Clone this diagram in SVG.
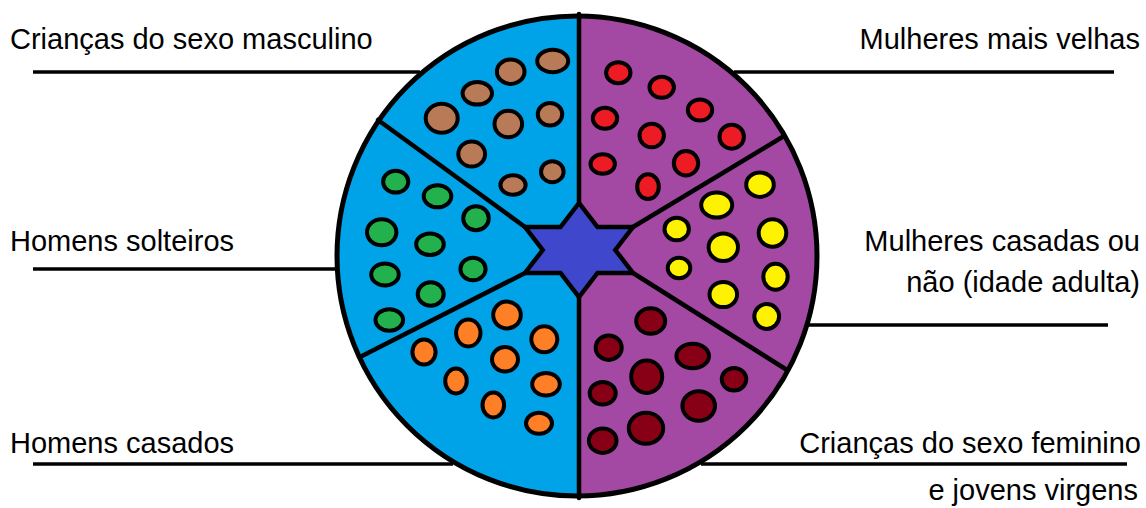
<svg xmlns="http://www.w3.org/2000/svg" width="1146" height="508" viewBox="0 0 1146 508">
<defs>
<clipPath id="disc"><circle cx="577" cy="256" r="240"/></clipPath>
<style>
.lbl{font-family:"Liberation Sans",Arial,sans-serif;font-size:29px;fill:#000}
.end{text-anchor:end}
.lead{stroke:#000;stroke-width:3.5;fill:none}
.div{stroke:#000;stroke-width:4.5;fill:none;stroke-linecap:round}
.d{stroke:#000;stroke-width:4}
.br{fill:#B97A57}.rd{fill:#ED1C24}.gr{fill:#22B14C}.ye{fill:#FFF200}.or{fill:#FF7F27}.dr{fill:#880015}
</style>
</defs>
<rect width="1146" height="508" fill="#fff"/>
<g id="wheel">
<circle cx="577" cy="256" r="240" fill="#00A2E8"/>
<rect x="579" y="0" width="260" height="508" fill="#A349A4" clip-path="url(#disc)"/>
<g id="dividers">
<line class="div" x1="579" y1="14" x2="579" y2="203"/>
<line class="div" x1="579" y1="297" x2="579" y2="498"/>
<line class="div" x1="378" y1="120" x2="525" y2="227"/>
<line class="div" x1="360" y1="357" x2="525" y2="273"/>
<line class="div" x1="784" y1="136" x2="633" y2="227"/>
<line class="div" x1="787" y1="370" x2="633" y2="273"/>
</g>
<circle cx="577" cy="256" r="240" fill="none" stroke="#000" stroke-width="5"/>
</g>
<g id="star">
<polygon points="579,203 560.5,227 525,227 542.7,250 525,273 560.5,273 579,297 597.5,273 633,273 615.3,250 633,227 597.5,227" fill="#3F48CC" stroke="#000" stroke-width="4.5" stroke-linejoin="miter"/>
</g>
<g id="node-criancas-masculino">
<ellipse class="d br" cx="552.7" cy="61" rx="15.5" ry="11.3"/>
<ellipse class="d br" cx="510.7" cy="71.7" rx="13.8" ry="12.2"/>
<ellipse class="d br" cx="477.3" cy="93.3" rx="14.7" ry="11.3"/>
<ellipse class="d br" cx="441.7" cy="118.3" rx="16" ry="14.5"/>
<ellipse class="d br" cx="508.3" cy="124" rx="13.8" ry="13.2"/>
<ellipse class="d br" cx="550" cy="114.3" rx="12.2" ry="11.3"/>
<ellipse class="d br" cx="471.7" cy="154" rx="13.4" ry="12.6"/>
<ellipse class="d br" cx="513" cy="185" rx="12.6" ry="9.7"/>
<ellipse class="d br" cx="552.3" cy="171.7" rx="11.3" ry="10.5"/>
<text class="lbl" x="10" y="49">Crianças do sexo masculino</text>
</g>
<g id="node-mulheres-velhas">
<ellipse class="d rd" cx="618.3" cy="72.7" rx="12.2" ry="10.5"/>
<ellipse class="d rd" cx="661.7" cy="87.3" rx="12.2" ry="10.5"/>
<ellipse class="d rd" cx="605" cy="118.3" rx="12.2" ry="10.5"/>
<ellipse class="d rd" cx="700" cy="110" rx="12.2" ry="10.5"/>
<ellipse class="d rd" cx="651.7" cy="135.5" rx="12.2" ry="11.8"/>
<ellipse class="d rd" cx="731.7" cy="136.7" rx="12.2" ry="12"/>
<ellipse class="d rd" cx="602.7" cy="164" rx="12.2" ry="9.7"/>
<ellipse class="d rd" cx="686" cy="163.3" rx="12.2" ry="12.2"/>
<ellipse class="d rd" cx="648" cy="186.7" rx="10.8" ry="12.4"/>
<text class="lbl end" x="1140" y="49">Mulheres mais velhas</text>
</g>
<g id="node-homens-solteiros">
<ellipse class="d gr" cx="395.7" cy="181.7" rx="12.6" ry="10.9"/>
<ellipse class="d gr" cx="437.5" cy="196.3" rx="13.8" ry="11"/>
<ellipse class="d gr" cx="476" cy="218.3" rx="12.8" ry="12"/>
<ellipse class="d gr" cx="381.7" cy="232.3" rx="14.7" ry="13"/>
<ellipse class="d gr" cx="430" cy="244.3" rx="13.8" ry="10.8"/>
<ellipse class="d gr" cx="473" cy="269" rx="12.6" ry="11.3"/>
<ellipse class="d gr" cx="385" cy="274.5" rx="13.8" ry="11"/>
<ellipse class="d gr" cx="430.7" cy="294" rx="13" ry="11.8"/>
<ellipse class="d gr" cx="389.3" cy="320" rx="13.8" ry="10.8"/>
<text class="lbl" x="10" y="251">Homens solteiros</text>
</g>
<g id="node-mulheres-casadas">
<ellipse class="d ye" cx="760" cy="184.7" rx="13.8" ry="12.2"/>
<ellipse class="d ye" cx="716.7" cy="205" rx="15.5" ry="12.6"/>
<ellipse class="d ye" cx="676.7" cy="229" rx="12.2" ry="11.3"/>
<ellipse class="d ye" cx="772.5" cy="233" rx="13.8" ry="13.8"/>
<ellipse class="d ye" cx="723.3" cy="247.3" rx="14.7" ry="13.8"/>
<ellipse class="d ye" cx="679" cy="268" rx="11.3" ry="10.2"/>
<ellipse class="d ye" cx="775.5" cy="276.7" rx="12.2" ry="13"/>
<ellipse class="d ye" cx="723.3" cy="294.5" rx="13.8" ry="12.6"/>
<ellipse class="d ye" cx="766.7" cy="316.5" rx="12.4" ry="12.4"/>
<text class="lbl end" x="1140" y="251">Mulheres casadas ou</text>
<text class="lbl end" x="1140" y="292">não (idade adulta)</text>
</g>
<g id="node-homens-casados">
<ellipse class="d or" cx="507" cy="315" rx="13.8" ry="13.4"/>
<ellipse class="d or" cx="468.3" cy="333" rx="12.2" ry="13.4"/>
<ellipse class="d or" cx="544.3" cy="339.3" rx="13" ry="13"/>
<ellipse class="d or" cx="424" cy="352" rx="11.6" ry="12.6"/>
<ellipse class="d or" cx="505" cy="359.3" rx="13" ry="12.2"/>
<ellipse class="d or" cx="456" cy="381" rx="10.8" ry="12.4"/>
<ellipse class="d or" cx="546" cy="384.3" rx="13.8" ry="11.3"/>
<ellipse class="d or" cx="493.3" cy="405" rx="10.8" ry="12.4"/>
<ellipse class="d or" cx="539" cy="423.3" rx="13" ry="10.5"/>
<text class="lbl" x="10" y="453">Homens casados</text>
</g>
<g id="node-criancas-feminino">
<ellipse class="d dr" cx="650.7" cy="321" rx="14.5" ry="12.8"/>
<ellipse class="d dr" cx="608.7" cy="347.7" rx="13" ry="12.2"/>
<ellipse class="d dr" cx="692.7" cy="356" rx="16.3" ry="12.2"/>
<ellipse class="d dr" cx="646.7" cy="376.7" rx="15.5" ry="16.3"/>
<ellipse class="d dr" cx="734" cy="379.3" rx="12.2" ry="11.3"/>
<ellipse class="d dr" cx="602.7" cy="393.3" rx="13" ry="11.3"/>
<ellipse class="d dr" cx="698.7" cy="406" rx="16.3" ry="14.7"/>
<ellipse class="d dr" cx="646" cy="428.3" rx="17.2" ry="15.5"/>
<ellipse class="d dr" cx="602.7" cy="440.7" rx="13.8" ry="12.2"/>
<text class="lbl end" x="1141" y="453">Crianças do sexo feminino</text>
<text class="lbl end" x="1138" y="500">e jovens virgens</text>
</g>
<g id="connectors">
<line class="lead" x1="33" y1="72" x2="420" y2="72"/>
<line class="lead" x1="734" y1="72" x2="1114" y2="72"/>
<line class="lead" x1="33" y1="269" x2="336" y2="269"/>
<line class="lead" x1="809" y1="325" x2="1108" y2="325"/>
<line class="lead" x1="33" y1="464" x2="453" y2="464"/>
<line class="lead" x1="701" y1="464" x2="1127" y2="464"/>
</g>
</svg>
